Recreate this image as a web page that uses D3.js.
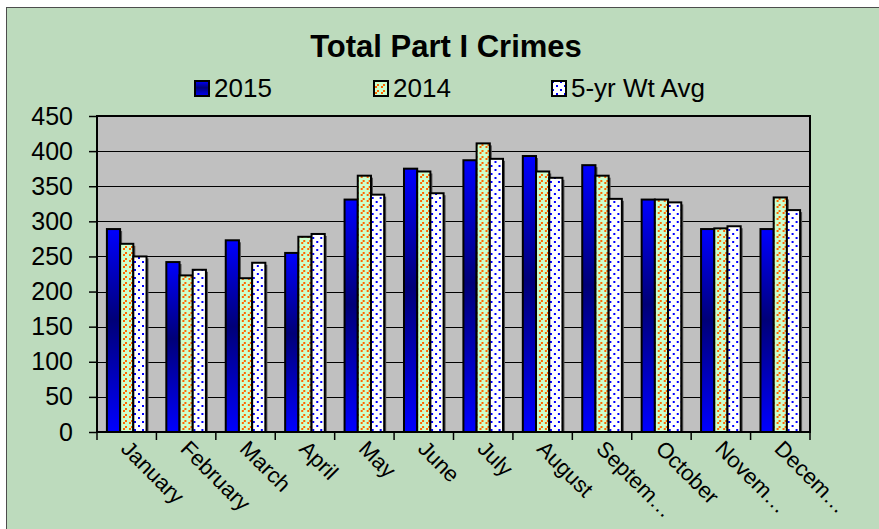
<!DOCTYPE html>
<html>
<head>
<meta charset="utf-8">
<script src="https://cdn.jsdelivr.net/npm/d3@7"></script>
<style>
  html, body { margin: 0; padding: 0; background: #fff; }
  svg { display: block; font-family: "Liberation Sans", Arial, sans-serif; }
</style>
</head>
<body>
<div id="chart"></div>
<script>
// chart data
const months = ['January', 'February', 'March', 'April', 'May', 'June', 'July',
  'August', 'Septem\u2026', 'October', 'Novem\u2026', 'Decem\u2026'];
const seriesNames = ['2015', '2014', '5-yr Wt Avg'];
const values2015 = [289, 242, 273, 255, 331, 375, 387, 393, 380, 331, 289, 289];
const values2014 = [268, 223, 219, 278, 365, 371, 411, 371, 365, 331, 290, 334];
const valuesAvg = [250, 231, 241, 282, 338, 340, 389, 362, 332, 327, 293, 316];
const yTicks = [0, 50, 100, 150, 200, 250, 300, 350, 400, 450];

const width = 879;
const height = 529;
const plot = { left: 97, top: 116, right: 810, bottom: 432 };

const svg = d3.select('#chart').append('svg')
  .attr('width', width)
  .attr('height', height);

const defs = svg.append('defs');

// blue gradient for 2015 bars: bright at ends, dark in the middle
const grad = defs.append('linearGradient')
  .attr('id', 'blueGrad')
  .attr('x1', 0).attr('y1', 0).attr('x2', 0).attr('y2', 1);
grad.append('stop').attr('offset', '0%').attr('stop-color', '#0000ff');
grad.append('stop').attr('offset', '45%').attr('stop-color', '#000078');
grad.append('stop').attr('offset', '100%').attr('stop-color', '#0000ff');

// orange dashed diagonals on pale green for 2014
const hatch = defs.append('pattern')
  .attr('id', 'hatch')
  .attr('patternUnits', 'userSpaceOnUse')
  .attr('width', 6).attr('height', 6);
hatch.append('rect').attr('width', 6).attr('height', 6).attr('fill', '#ccffcc');
[[4, 0], [2, 2]].forEach(p => {
  hatch.append('rect')
    .attr('x', p[0]).attr('y', p[1])
    .attr('width', 2).attr('height', 2)
    .attr('fill', '#ff6600')
    .attr('shape-rendering', 'crispEdges');
});

// blue dots on white for the average
const dots = defs.append('pattern')
  .attr('id', 'dots')
  .attr('patternUnits', 'userSpaceOnUse')
  .attr('width', 8).attr('height', 8);
dots.append('rect').attr('width', 8).attr('height', 8).attr('fill', '#ffffff');
[[1, 1], [5, 5]].forEach(p => {
  dots.append('rect')
    .attr('x', p[0]).attr('y', p[1])
    .attr('width', 2).attr('height', 2)
    .attr('fill', '#0000ff')
    .attr('shape-rendering', 'crispEdges');
});

const fills = ['url(#blueGrad)', 'url(#hatch)', 'url(#dots)'];

// chart area
svg.append('rect')
  .attr('x', 6.5).attr('y', 7.5)
  .attr('width', width).attr('height', height)
  .attr('fill', '#bddbbd')
  .attr('stroke', '#4d4d4d')
  .attr('stroke-width', 1);

// title
svg.append('text')
  .attr('x', 446)
  .attr('y', 57)
  .attr('text-anchor', 'middle')
  .attr('font-size', 31)
  .attr('font-weight', 'bold')
  .text('Total Part I Crimes');

// legend
const legendX = [194, 373, 551];
const legend = svg.append('g').selectAll('g')
  .data(seriesNames)
  .enter().append('g')
  .attr('transform', (d, i) => `translate(${legendX[i]},0)`);
legend.append('rect')
  .attr('x', 1).attr('y', 81)
  .attr('width', 14).attr('height', 15)
  .attr('fill', (d, i) => fills[i])
  .attr('stroke', '#000')
  .attr('stroke-width', 2);
legend.append('text')
  .attr('x', 20)
  .attr('y', 97)
  .attr('font-size', 26)
  .text(d => d);

// scales
const x = d3.scaleBand()
  .domain(months)
  .range([plot.left, plot.right]);

const barW = x.bandwidth() / 4.5;
const xSeries = d3.scaleBand()
  .domain(seriesNames)
  .range([barW * 0.75, x.bandwidth() - barW * 0.75]);

const y = d3.scaleLinear()
  .domain([0, 450])
  .range([plot.bottom, plot.top]);

// plot background
svg.append('rect')
  .attr('x', plot.left).attr('y', plot.top)
  .attr('width', plot.right - plot.left)
  .attr('height', plot.bottom - plot.top)
  .attr('fill', '#c0c0c0');

// gridlines
svg.append('g')
  .selectAll('line')
  .data(yTicks.slice(1))
  .enter().append('line')
  .attr('x1', plot.left).attr('x2', plot.right)
  .attr('y1', d => Math.round(y(d)) + 0.5)
  .attr('y2', d => Math.round(y(d)) + 0.5)
  .attr('stroke', '#000')
  .attr('stroke-width', 1);

// bars
const rows = months.map((m, i) => ({
  month: m,
  vals: [values2015[i], values2014[i], valuesAvg[i]]
}));

const groups = svg.append('g')
  .selectAll('g')
  .data(rows)
  .enter().append('g')
  .attr('transform', d => `translate(${x(d.month)},0)`);

// shadow
groups.selectAll('rect.shadow')
  .data(d => d.vals.map((v, i) => ({ name: seriesNames[i], v: v, i: i })))
  .enter().append('rect')
  .attr('class', 'shadow')
  .attr('x', d => xSeries(d.name) + 2)
  .attr('y', d => y(d.v) + 2)
  .attr('width', xSeries.bandwidth())
  .attr('height', d => y(0) - y(d.v) - 2)
  .attr('fill', '#555');

groups.selectAll('rect.bar')
  .data(d => d.vals.map((v, i) => ({ name: seriesNames[i], v: v, i: i })))
  .enter().append('rect')
  .attr('class', 'bar')
  .attr('x', d => xSeries(d.name))
  .attr('y', d => y(d.v))
  .attr('width', xSeries.bandwidth())
  .attr('height', d => y(0) - y(d.v))
  .attr('fill', d => fills[d.i])
  .attr('stroke', '#000')
  .attr('stroke-width', 2);

// plot border
svg.append('rect')
  .attr('x', plot.left).attr('y', plot.top)
  .attr('width', plot.right - plot.left)
  .attr('height', plot.bottom - plot.top)
  .attr('fill', 'none')
  .attr('stroke', '#000')
  .attr('stroke-width', 2);

// y axis
const yAxis = svg.append('g')
  .attr('transform', `translate(${plot.left},0)`)
  .call(d3.axisLeft(y).tickValues(yTicks).tickSize(8).tickPadding(16));
yAxis.select('.domain').remove();
yAxis.selectAll('line').attr('stroke', '#000').attr('stroke-width', 1.5);
yAxis.selectAll('text')
  .attr('font-size', 25)
  .attr('font-family', '"Liberation Sans", Arial, sans-serif')
  .attr('fill', '#000');

// x axis tick marks at category boundaries
svg.append('g')
  .selectAll('line')
  .data(months.concat(['end']))
  .enter().append('line')
  .attr('x1', d => d === 'end' ? plot.right : x(d))
  .attr('x2', d => d === 'end' ? plot.right : x(d))
  .attr('y1', plot.bottom)
  .attr('y2', plot.bottom + 8)
  .attr('stroke', '#000')
  .attr('stroke-width', 1.5);

// month labels
svg.append('g')
  .selectAll('text')
  .data(months)
  .enter().append('text')
  .attr('transform', d => `translate(${x(d) + x.bandwidth() / 2 - 7},${plot.bottom + 18}) rotate(45)`)
  .attr('font-size', 22)
  .text(d => d);
</script>
</body>
</html>
